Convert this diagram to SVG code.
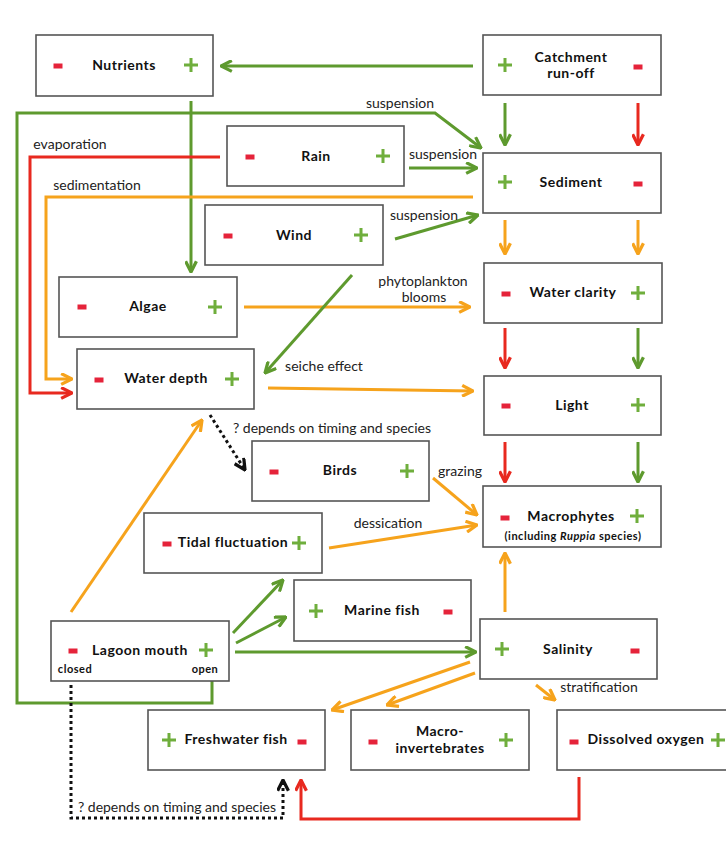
<svg xmlns="http://www.w3.org/2000/svg" width="726" height="843" viewBox="0 0 726 843">
<style>
.box{fill:#fff;stroke:#555;stroke-width:1.6}
.t{font-family:Lato,"Open Sans","Liberation Sans",sans-serif;font-weight:bold;font-size:14px;letter-spacing:0.5px;fill:#111;text-anchor:middle}
.s{font-family:Lato,"Open Sans","Liberation Sans",sans-serif;font-weight:bold;font-size:11px;letter-spacing:0.5px;fill:#111;text-anchor:middle}
.l{font-family:Lato,"Open Sans","Liberation Sans",sans-serif;font-size:14px;fill:#222;text-anchor:middle}
.g{fill:none;stroke:#5e9a2e;stroke-width:3;marker-end:url(#ag)}
.o{fill:none;stroke:#f6a31c;stroke-width:3;marker-end:url(#ao)}
.r{fill:none;stroke:#e8291f;stroke-width:3;marker-end:url(#ar)}
.k{fill:none;stroke:#111;stroke-width:3;stroke-dasharray:3 3;marker-end:url(#ak)}
</style>
<defs>
<marker id="ag" viewBox="0 0 12 12" refX="11" refY="6" markerWidth="13" markerHeight="13" markerUnits="userSpaceOnUse" orient="auto"><path d="M1,1 L11,6 L1,11" fill="none" stroke="#5e9a2e" stroke-width="3"/></marker>
<marker id="ao" viewBox="0 0 12 12" refX="11" refY="6" markerWidth="13" markerHeight="13" markerUnits="userSpaceOnUse" orient="auto"><path d="M1,1 L11,6 L1,11" fill="none" stroke="#f6a31c" stroke-width="3"/></marker>
<marker id="ar" viewBox="0 0 12 12" refX="11" refY="6" markerWidth="13" markerHeight="13" markerUnits="userSpaceOnUse" orient="auto"><path d="M1,1 L11,6 L1,11" fill="none" stroke="#e8291f" stroke-width="3"/></marker>
<marker id="ak" viewBox="0 0 12 12" refX="11" refY="6" markerWidth="13" markerHeight="13" markerUnits="userSpaceOnUse" orient="auto"><path d="M1,1 L11,6 L1,11" fill="none" stroke="#111" stroke-width="3"/></marker>
<path id="plus" d="M-7,0 H7 M0,-7 V7" stroke="#6fae3c" stroke-width="3" fill="none"/>
<rect id="minus" x="-4.5" y="-2.5" width="9" height="5" fill="#e5233a"/>
</defs>
<rect width="726" height="843" fill="#fff"/>

<g id="connectors">
<path class="g" d="M473,66 H221"/>
<path class="g" d="M505,103 V145"/>
<path class="r" d="M638,103 V145"/>
<path class="g" d="M191,101 V272"/>
<path class="g" d="M212,681 V703 H17 V113 H435 L481,148"/>
<path class="g" d="M409,168 H477"/>
<path class="g" d="M395,239 L478,215"/>
<path class="r" d="M220,157 H30 V393 H72"/>
<path class="o" d="M473,197 H46 V379 H72"/>
<path class="o" d="M505,220 V254"/>
<path class="o" d="M638,220 V254"/>
<path class="o" d="M244,307 H470"/>
<path class="g" d="M352,275 L265,373"/>
<path class="o" d="M268,388 L473,391"/>
<path class="r" d="M505,328 V368"/>
<path class="g" d="M638,328 V368"/>
<path class="r" d="M505,442 V482"/>
<path class="g" d="M638,442 V482"/>
<path class="k" d="M210,415 L245,470"/>
<path class="o" d="M433,478 L477,515"/>
<path class="o" d="M329,548 L477,525"/>
<path class="o" d="M71,612 L202,420"/>
<path class="g" d="M233,633 L283,580"/>
<path class="g" d="M236,643 L286,617"/>
<path class="g" d="M235,652 H476"/>
<path class="o" d="M505,612 V553"/>
<path class="o" d="M470,662 L332,710"/>
<path class="o" d="M475,673 L387,705"/>
<path class="o" d="M536,685 L555,700"/>
<path class="r" d="M579,777 V819 H301 V780"/>
<path class="k" d="M71,685 V818 H283 V780"/>
<text class="l" x="400" y="108">suspension</text>
<text class="l" x="443" y="159">suspension</text>
<text class="l" x="424" y="220">suspension</text>
<text class="l" x="70" y="149">evaporation</text>
<text class="l" x="97" y="190">sedimentation</text>
<text class="l" x="423" y="286">phytoplankton</text>
<text class="l" x="424" y="302">blooms</text>
<text class="l" x="324" y="371">seiche effect</text>
<text class="l" x="332" y="433">? depends on timing and species</text>
<text class="l" x="460" y="476">grazing</text>
<text class="l" x="388" y="528">dessication</text>
<text class="l" x="599" y="692">stratification</text>
<text class="l" x="177" y="812">? depends on timing and species</text>
</g>

<g id="nutrients"><rect class="box" x="36" y="35" width="177" height="61"/><use href="#minus" x="58" y="66"/><text class="t" x="124" y="70">Nutrients</text><use href="#plus" x="191" y="65"/></g>
<g id="catchment"><rect class="box" x="483" y="35" width="178" height="60"/><use href="#plus" x="505" y="65"/><text class="t" x="571" y="62">Catchment</text><text class="t" x="571" y="78">run-off</text><use href="#minus" x="638" y="67"/></g>
<g id="rain"><rect class="box" x="227" y="126" width="177" height="60"/><use href="#minus" x="250" y="157"/><text class="t" x="316" y="161">Rain</text><use href="#plus" x="383" y="156"/></g>
<g id="sediment"><rect class="box" x="483" y="153" width="178" height="60"/><use href="#plus" x="505" y="182"/><text class="t" x="571" y="187">Sediment</text><use href="#minus" x="638" y="184"/></g>
<g id="wind"><rect class="box" x="205" y="205" width="178" height="60"/><use href="#minus" x="228" y="236"/><text class="t" x="294" y="240">Wind</text><use href="#plus" x="361" y="235"/></g>
<g id="algae"><rect class="box" x="59" y="277" width="178" height="60"/><use href="#minus" x="82" y="307"/><text class="t" x="148" y="311">Algae</text><use href="#plus" x="215" y="307"/></g>
<g id="water-clarity"><rect class="box" x="484" y="263" width="178" height="60"/><use href="#minus" x="506" y="294"/><text class="t" x="573" y="297">Water clarity</text><use href="#plus" x="638" y="293"/></g>
<g id="water-depth"><rect class="box" x="77" y="349" width="177" height="60"/><use href="#minus" x="99" y="380"/><text class="t" x="166" y="383">Water depth</text><use href="#plus" x="232" y="379"/></g>
<g id="light"><rect class="box" x="484" y="376" width="177" height="59"/><use href="#minus" x="506" y="406"/><text class="t" x="572" y="410">Light</text><use href="#plus" x="638" y="405"/></g>
<g id="birds"><rect class="box" x="252" y="441" width="177" height="60"/><use href="#minus" x="274" y="472"/><text class="t" x="340" y="475">Birds</text><use href="#plus" x="407" y="471"/></g>
<g id="macrophytes"><rect class="box" x="483" y="486" width="178" height="61"/><use href="#minus" x="505" y="518"/><text class="t" x="571" y="521">Macrophytes</text><text class="s" x="573" y="540" font-size="11.5">(including <tspan font-style="italic">Ruppia</tspan> species)</text><use href="#plus" x="637" y="516"/></g>
<g id="tidal"><rect class="box" x="144" y="513" width="178" height="60"/><use href="#minus" x="167" y="544"/><text class="t" x="233" y="547" letter-spacing="0.2">Tidal fluctuation</text><use href="#plus" x="299" y="543"/></g>
<g id="marine-fish"><rect class="box" x="294" y="580" width="177" height="61"/><use href="#plus" x="316" y="611"/><text class="t" x="382" y="615">Marine fish</text><use href="#minus" x="448" y="612"/></g>
<g id="lagoon-mouth"><rect class="box" x="51" y="621" width="178" height="60"/><use href="#minus" x="73" y="651"/><text class="t" x="140" y="655">Lagoon mouth</text><use href="#plus" x="206" y="650"/><text class="s" x="75" y="673">closed</text><text class="s" x="205" y="673">open</text></g>
<g id="salinity"><rect class="box" x="480" y="619" width="177" height="60"/><use href="#plus" x="502" y="649"/><text class="t" x="568" y="654">Salinity</text><use href="#minus" x="635" y="651"/></g>
<g id="freshwater-fish"><rect class="box" x="148" y="710" width="177" height="60"/><use href="#plus" x="169" y="740"/><text class="t" x="236" y="744">Freshwater fish</text><use href="#minus" x="302" y="742"/></g>
<g id="macroinvertebrates"><rect class="box" x="351" y="710" width="178" height="60"/><use href="#minus" x="373" y="742"/><text class="t" x="440" y="736">Macro-</text><text class="t" x="440" y="753">invertebrates</text><use href="#plus" x="506" y="740"/></g>
<g id="dissolved-oxygen"><rect class="box" x="557" y="710" width="180" height="60"/><use href="#minus" x="574" y="742"/><text class="t" x="646" y="744">Dissolved oxygen</text><use href="#plus" x="718" y="740"/></g>
</svg>
